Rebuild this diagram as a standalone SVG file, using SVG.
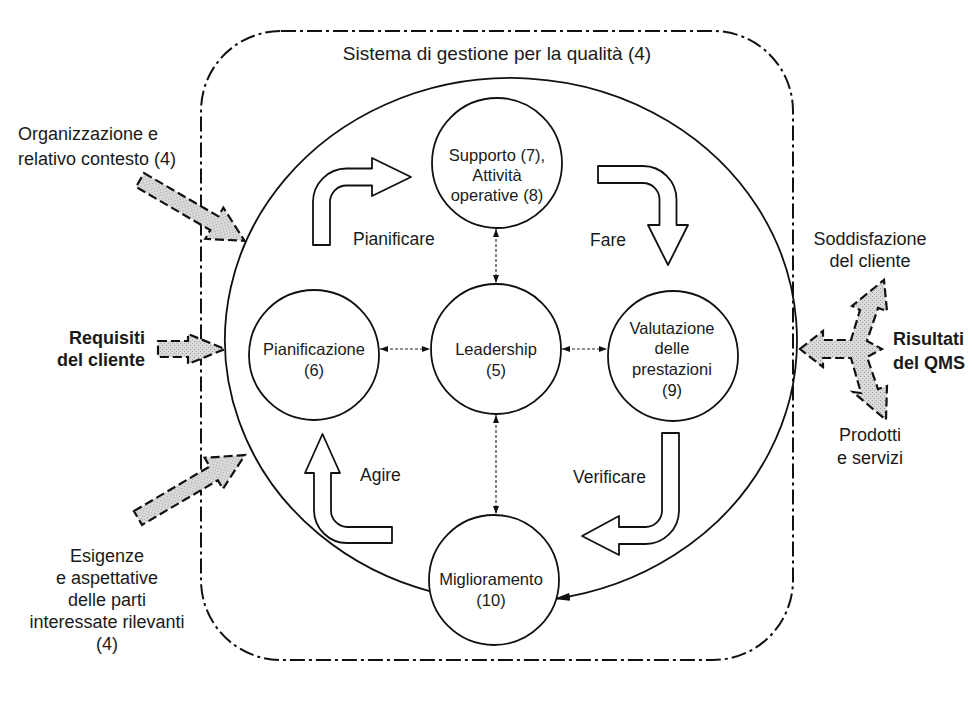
<svg xmlns="http://www.w3.org/2000/svg" width="972" height="706" viewBox="0 0 972 706">
<style>
text{font-family:"Liberation Sans",Arial,Helvetica,sans-serif;fill:#1a1a1a}
.lab{font-size:18px}
.ctr{text-anchor:middle}
.end{text-anchor:end}
.b{font-weight:bold}
.ct{font-size:16.5px;text-anchor:middle}
.pl{font-size:17.5px}
.node{fill:#fff;stroke:#111;stroke-width:1.8}
.hollow{fill:#fff;stroke:#111;stroke-width:1.8;stroke-linejoin:round}
.gray{fill:url(#stip);stroke:#111;stroke-width:2.2;stroke-dasharray:9 4}
.dash{stroke:#222;stroke-width:1.1;stroke-dasharray:3 2;fill:none}
</style>
<defs>
<pattern id="stip" width="4" height="4" patternUnits="userSpaceOnUse">
<rect width="4" height="4" fill="#dadada"/>
<rect x="0" y="0" width="1" height="1" fill="#9a9a9a"/>
<rect x="2" y="2" width="1" height="1" fill="#a8a8a8"/>
</pattern>
<marker id="sm" viewBox="0 0 8 6" refX="8" refY="3" markerWidth="8" markerHeight="6" markerUnits="userSpaceOnUse" orient="auto-start-reverse">
<path d="M0,0 L8,3 L0,6 Z" fill="#111"/>
</marker>
<marker id="big" viewBox="0 0 16 8" refX="16" refY="4" markerWidth="16" markerHeight="8" markerUnits="userSpaceOnUse" orient="auto">
<path d="M0,0 L16,4 L0,8 Z" fill="#111"/>
</marker>
</defs>

<g id="qms-boundary">
<rect x="201" y="31" width="592" height="629" rx="80" ry="80" fill="none" stroke="#111" stroke-width="2" stroke-dasharray="15 4 3 4"/>
<text class="ctr" style="font-size:19px" x="497" y="60">Sistema di gestione per la qualità (4)</text>
</g>

<g id="connectors">
<path id="pdca-cycle" d="M432,591.8 A286,262 0 1 1 554,599" fill="none" stroke="#111" stroke-width="1.8" marker-end="url(#big)"/>
<line class="dash" x1="496" y1="229" x2="496" y2="283" marker-start="url(#sm)" marker-end="url(#sm)"/>
<line class="dash" x1="380" y1="349" x2="430" y2="349" marker-start="url(#sm)" marker-end="url(#sm)"/>
<line class="dash" x1="562" y1="349" x2="607" y2="349" marker-start="url(#sm)" marker-end="url(#sm)"/>
<line class="dash" x1="496" y1="415" x2="496" y2="514" marker-start="url(#sm)" marker-end="url(#sm)"/>
</g>

<g id="input-org">
<path class="gray" transform="translate(140,180) rotate(30.2)" d="M0,-8 L86,-8 L86,-18 L121,0 L86,18 L86,8 L0,8 Z"/>
<text class="lab" x="18" y="140">Organizzazione e</text>
<text class="lab" x="18" y="165">relativo contesto (4)</text>
</g>

<g id="input-req">
<path class="gray" transform="translate(158,349)" d="M0,-8 L30,-8 L30,-15 L67,0 L30,15 L30,8 L0,8 Z"/>
<text class="lab end b" x="145" y="344">Requisiti</text>
<text class="lab end b" x="145" y="366">del cliente</text>
</g>

<g id="input-parti">
<path class="gray" transform="translate(138,518) rotate(-30.5)" d="M0,-8 L88,-8 L88,-18 L124,0 L88,18 L88,8 L0,8 Z"/>
<text class="lab ctr" x="107" y="562">Esigenze</text>
<text class="lab ctr" x="107" y="584">e aspettative</text>
<text class="lab ctr" x="107" y="606">delle parti</text>
<text class="lab ctr" x="107" y="628">interessate rilevanti</text>
<text class="lab ctr" x="107" y="650">(4)</text>
</g>

<g id="output-results">
<path class="gray" d="M800,349 L823,331 L823,340 L851,340 L860,310 L852,306 L884,280 L887,311 L878,308 L867,341 L882,349 L867,357 L878,389 L887,386 L886,420 L853,392 L861,393 L851,358 L823,358 L823,367 Z"/>
<text class="lab ctr" x="870" y="245">Soddisfazione</text>
<text class="lab ctr" x="870" y="267">del cliente</text>
<text class="lab b" x="893" y="345">Risultati</text>
<text class="lab b" x="893" y="369">del QMS</text>
<text class="lab ctr" x="870" y="441">Prodotti</text>
<text class="lab ctr" x="870" y="464">e servizi</text>
</g>

<g id="arrow-pianificare">
<path class="hollow" d="M313,245 L313,202 A33.5,33.5 0 0 1 346.5,168.5 L372,168.5 L372,158 L411,177 L372,196 L372,185.5 L346.5,185.5 A16.5,16.5 0 0 0 330,202 L330,245 Z"/>
<text class="pl" x="353" y="245">Pianificare</text>
</g>

<g id="arrow-fare">
<path class="hollow" d="M598,166 L643,166 A33.5,33.5 0 0 1 676.5,199.5 L676.5,225 L688,225 L668,265 L648,225 L659.5,225 L659.5,199.5 A16.5,16.5 0 0 0 643,183 L598,183 Z"/>
<text class="pl" x="590" y="246">Fare</text>
</g>

<g id="arrow-verificare">
<path class="hollow" d="M662,433 L679,433 L679,510.5 A33.5,33.5 0 0 1 645.5,544 L619,544 L619,555 L582,536 L619,516 L619,527 L645.5,527 A16.5,16.5 0 0 0 662,510.5 Z"/>
<text class="pl end" x="646" y="483">Verificare</text>
</g>

<g id="arrow-agire">
<path class="hollow" d="M392,543 L347.5,543 A33,33 0 0 1 314,510 L314,473 L305,473 L322.5,434 L340,473 L331,473 L331,510 A16.5,16.5 0 0 0 347.5,527 L392,527 Z"/>
<text class="pl" x="360" y="481">Agire</text>
</g>

<g id="node-supporto">
<circle class="node" cx="497" cy="163" r="65"/>
<text class="ct" x="497" y="161">Supporto (7),</text>
<text class="ct" x="497" y="181">Attività</text>
<text class="ct" x="497" y="201">operative (8)</text>
</g>

<g id="node-pianificazione">
<circle class="node" cx="314" cy="355" r="65"/>
<text class="ct" x="314" y="355">Pianificazione</text>
<text class="ct" x="314" y="376">(6)</text>
</g>

<g id="node-leadership">
<circle class="node" cx="496" cy="349" r="65"/>
<text class="ct" x="496" y="355">Leadership</text>
<text class="ct" x="496" y="376">(5)</text>
</g>

<g id="node-valutazione">
<circle class="node" cx="673" cy="356" r="65"/>
<text class="ct" x="672" y="334">Valutazione</text>
<text class="ct" x="672" y="354">delle</text>
<text class="ct" x="672" y="375">prestazioni</text>
<text class="ct" x="672" y="396">(9)</text>
</g>

<g id="node-miglioramento">
<circle class="node" cx="494" cy="580" r="65"/>
<text class="ct" x="491" y="585">Miglioramento</text>
<text class="ct" x="491" y="606">(10)</text>
</g>
</svg>
